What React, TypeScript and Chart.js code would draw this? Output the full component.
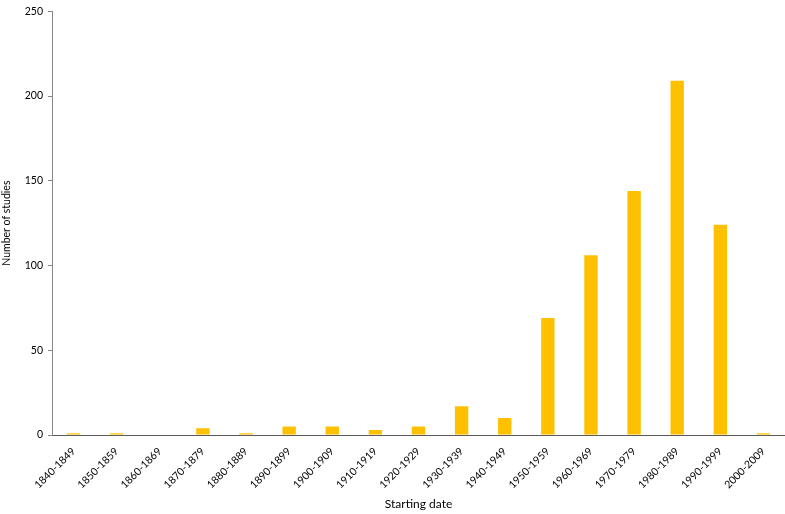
import React, { useEffect, useRef } from "react";
import { Chart, registerables } from "chart.js";

Chart.register(...registerables);

const categories = [
  "1840-1849", "1850-1859", "1860-1869", "1870-1879", "1880-1889", "1890-1899",
  "1900-1909", "1910-1919", "1920-1929", "1930-1939", "1940-1949", "1950-1959",
  "1960-1969", "1970-1979", "1980-1989", "1990-1999", "2000-2009",
];
const studies = [1, 1, 0, 4, 1, 5, 5, 3, 5, 17, 10, 69, 106, 144, 209, 124, 1];
const yTicks = [0, 50, 100, 150, 200, 250];

const FONT = "Lato, 'Open Sans', sans-serif";

export default function App() {
  const ref = useRef<HTMLCanvasElement | null>(null);
  useEffect(() => {
    if (!ref.current) return;
    const chart = new Chart(ref.current, {
      type: "bar",
      data: {
        labels: categories,
        datasets: [
          {
            data: studies,
            backgroundColor: "#FFC000",
            borderWidth: 0,
            barPercentage: 0.31,
            categoryPercentage: 1,
          },
        ],
      },
      options: {
        animation: false,
        responsive: false,
        maintainAspectRatio: false,
        layout: { padding: { top: 7, right: 0, left: 0, bottom: 0 } },
        plugins: { legend: { display: false }, tooltip: { enabled: false } },
        scales: {
          x: {
            grid: { display: false, drawTicks: false },
            border: { display: true, color: "#595959", width: 1 },
            ticks: {
              color: "#000",
              font: { family: FONT, size: 10.5 },
              minRotation: 45,
              maxRotation: 45,
              padding: 10,
            },
            title: {
              display: true,
              text: "Starting date",
              color: "#000",
              font: { family: FONT, size: 12 },
              padding: { top: 4, bottom: 3 },
            },
            afterFit: (s: any) => {
              s.height = 79;
            },
          },
          y: {
            min: 0,
            max: 250,
            afterBuildTicks: (s: any) => {
              s.ticks = yTicks.map((v) => ({ value: v }));
            },
            grid: {
              drawOnChartArea: false,
              drawTicks: true,
              tickLength: 4,
              color: "#868686",
            },
            border: { display: true, color: "#868686", width: 1 },
            ticks: {
              color: "#000",
              font: { family: FONT, size: 10.5 },
              padding: 5,
            },
            title: {
              display: true,
              text: "Number of studies",
              color: "#000",
              font: { family: FONT, size: 10.5 },
              padding: { top: 0, bottom: 4 },
            },
            afterFit: (s: any) => {
              s.width = 52;
            },
          },
        },
      },
    });
    return () => chart.destroy();
  }, []);
  return (
    <div style={{ position: "fixed", left: 0, top: 0, width: 785, height: 514, background: "#fff" }}>
      <canvas ref={ref} width={785} height={514} style={{ width: 785, height: 514 }} />
    </div>
  );
}
